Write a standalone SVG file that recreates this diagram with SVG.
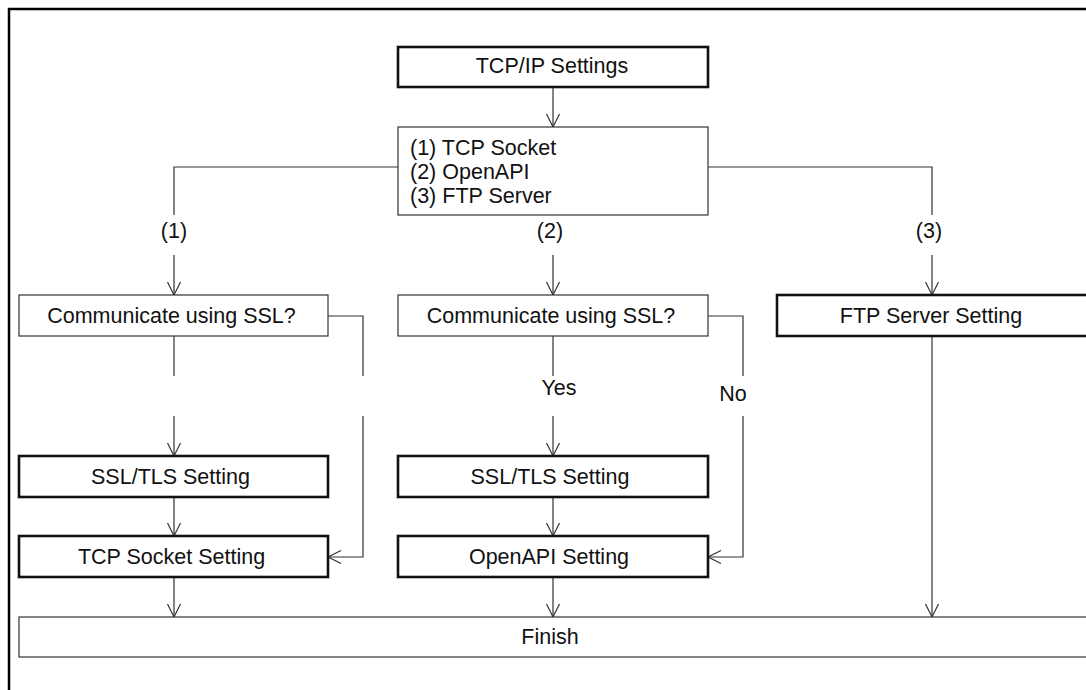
<svg xmlns="http://www.w3.org/2000/svg" width="1086" height="690" viewBox="0 0 1086 690">
<style>
  .thin { fill: #fff; stroke: #333; stroke-width: 1.2; }
  .thick { fill: #fff; stroke: #111; stroke-width: 2.6; }
  .t { font-family: "Liberation Sans", Arial, sans-serif; font-size: 21.5px; fill: #111; }
  .c { text-anchor: middle; }
  .ln { fill: none; stroke: #333; stroke-width: 1.2; }
</style>
<defs>
  <marker id="arr" markerUnits="userSpaceOnUse" markerWidth="20" markerHeight="20" refX="0" refY="0" orient="auto" overflow="visible">
    <path d="M-13,-6.5 L0,0 L-13,6.5" fill="none" stroke="#333" stroke-width="1.2"/>
  </marker>
</defs>
<rect x="0" y="0" width="1086" height="690" fill="#fff"/>
<path d="M9,700 L9,9 L1100,9" fill="none" stroke="#000" stroke-width="2.5"/>

<g id="connectors">
  <path class="ln" d="M553,87 L553,127" marker-end="url(#arr)"/>
  <path class="ln" d="M398,167 L174,167 L174,215"/>
  <path class="ln" d="M174,255 L174,295" marker-end="url(#arr)"/>
  <path class="ln" d="M553,255 L553,295" marker-end="url(#arr)"/>
  <path class="ln" d="M708,167 L932,167 L932,215"/>
  <path class="ln" d="M932,255 L932,295" marker-end="url(#arr)"/>

  <path class="ln" d="M174,336 L174,376"/>
  <path class="ln" d="M174,416 L174,456" marker-end="url(#arr)"/>
  <path class="ln" d="M174,497 L174,536" marker-end="url(#arr)"/>
  <path class="ln" d="M174,577 L174,617" marker-end="url(#arr)"/>
  <path class="ln" d="M328,316 L363,316 L363,376"/>
  <path class="ln" d="M363,416 L363,557 L328,557" marker-end="url(#arr)"/>

  <path class="ln" d="M553,336 L553,376"/>
  <path class="ln" d="M553,416 L553,456" marker-end="url(#arr)"/>
  <path class="ln" d="M553,497 L553,536" marker-end="url(#arr)"/>
  <path class="ln" d="M553,577 L553,617" marker-end="url(#arr)"/>
  <path class="ln" d="M708,316 L743,316 L743,376"/>
  <path class="ln" d="M743,416 L743,557 L708,557" marker-end="url(#arr)"/>

  <path class="ln" d="M932,336 L932,617" marker-end="url(#arr)"/>

  <text class="t c" x="174" y="238">(1)</text>
  <text class="t c" x="550" y="238">(2)</text>
  <text class="t c" x="929" y="238">(3)</text>
  <text class="t c" x="559" y="395">Yes</text>
  <text class="t c" x="733" y="401">No</text>
</g>

<g id="tcpip">
  <rect class="thick" x="398" y="47" width="310" height="40"/>
  <text class="t c" x="552" y="72.5">TCP/IP Settings</text>
</g>
<g id="options">
  <rect class="thin" x="398" y="127" width="310" height="88"/>
  <text class="t" x="410" y="155">(1) TCP Socket</text>
  <text class="t" x="410" y="179">(2) OpenAPI</text>
  <text class="t" x="410" y="203">(3) FTP Server</text>
</g>
<g id="ssl-q1">
  <rect class="thin" x="19" y="295" width="309" height="41"/>
  <text class="t c" x="171.5" y="322.5">Communicate using SSL?</text>
</g>
<g id="ssl-q2">
  <rect class="thin" x="398" y="295" width="310" height="41"/>
  <text class="t c" x="551" y="322.5">Communicate using SSL?</text>
</g>
<g id="ftp">
  <rect class="thick" x="777" y="295" width="312" height="41"/>
  <text class="t c" x="931" y="322.5">FTP Server Setting</text>
</g>
<g id="ssltls1">
  <rect class="thick" x="19" y="456" width="309" height="41"/>
  <text class="t c" x="170.5" y="483.5">SSL/TLS Setting</text>
</g>
<g id="ssltls2">
  <rect class="thick" x="398" y="456" width="310" height="41"/>
  <text class="t c" x="550" y="483.5">SSL/TLS Setting</text>
</g>
<g id="tcpsocket">
  <rect class="thick" x="19" y="536" width="309" height="41"/>
  <text class="t c" x="171.5" y="563.5">TCP Socket Setting</text>
</g>
<g id="openapi">
  <rect class="thick" x="398" y="536" width="310" height="41"/>
  <text class="t c" x="549" y="563.5">OpenAPI Setting</text>
</g>
<g id="finish">
  <rect class="thin" x="19" y="617" width="1080" height="40"/>
  <text class="t c" x="550" y="644">Finish</text>
</g>
</svg>
